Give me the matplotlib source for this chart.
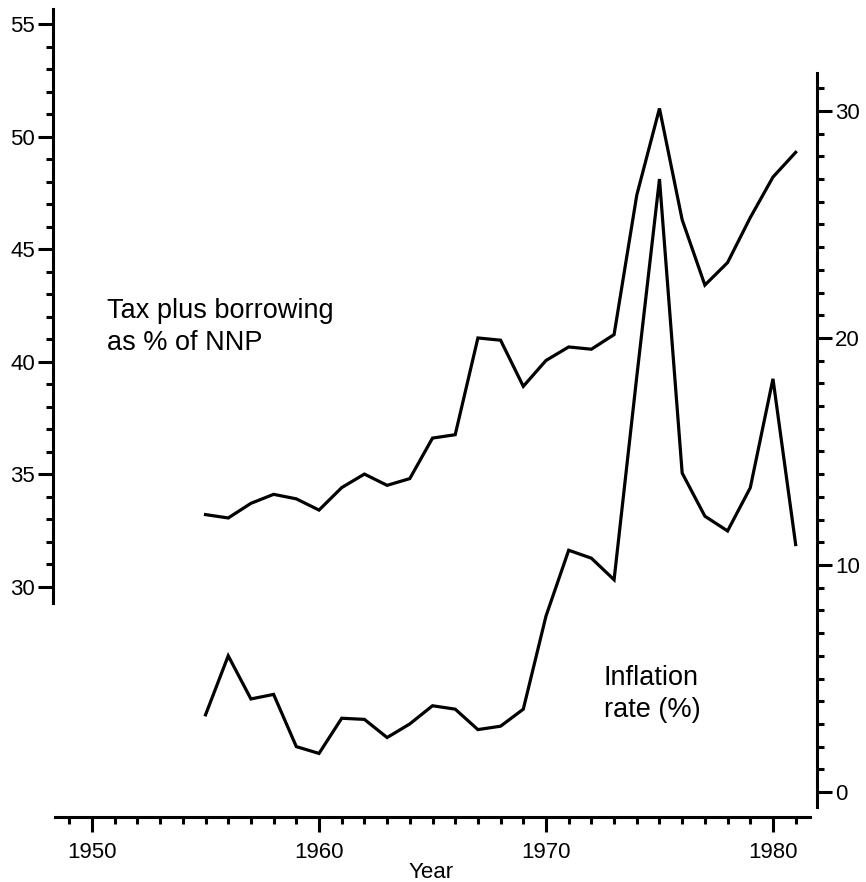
import numpy as np
import matplotlib
matplotlib.use("Agg")
import matplotlib.pyplot as plt

plt.rcParams['font.family'] = ['Liberation Sans', 'DejaVu Sans']

years = list(range(1955, 1982))
tax_borrowing = [33.2, 33.05, 33.7, 34.1, 33.9, 33.4, 34.4, 35.0, 34.5, 34.8,
                 36.6, 36.75, 41.05, 40.95, 38.9, 40.05, 40.65, 40.55, 41.2, 47.4,
                 51.25, 46.3, 43.4, 44.4, 46.4, 48.2, 49.3]
inflation = [3.4, 6.0, 4.1, 4.3, 2.0, 1.7, 3.25, 3.2, 2.4, 3.0,
             3.8, 3.65, 2.75, 2.9, 3.65, 7.75, 10.65, 10.3, 9.35, 18.3,
             27.0, 14.05, 12.15, 11.5, 13.4, 18.2, 10.9]

x_major = [1950, 1960, 1970, 1980]
left_major = [30, 35, 40, 45, 50, 55]
right_major = [0, 10, 20, 30]

W, H = 866, 882
fig = plt.figure(figsize=(W / 100, H / 100), dpi=100)
ax = fig.add_axes([53 / W, (H - 817) / H, (817 - 53) / W, (817 - 9) / H])
ax2 = ax.twinx()

lw = 2.3
fs = 16
fs_note = 19.5

ax.plot(years, tax_borrowing, color='black', lw=lw, solid_joinstyle='miter')
ax2.plot(years, inflation, color='black', lw=lw, solid_joinstyle='miter')

ax.set_xlim(1948.28, 1981.94)
ax.set_ylim(19.76, 55.67)
ax2.set_ylim(-1.10, 34.49)

for s in ['top', 'right']:
    ax.spines[s].set_visible(False)
for s in ['top', 'left', 'bottom']:
    ax2.spines[s].set_visible(False)
for sp in [ax.spines['left'], ax.spines['bottom'], ax2.spines['right']]:
    sp.set_linewidth(2.2)
ax.spines['left'].set_bounds(29.25, 55.67)
ax.spines['bottom'].set_bounds(1948.37, 1981.63)
ax2.spines['right'].set_bounds(-0.66, 31.67)

ax.set_xticks(x_major)
ax.set_xticks(np.arange(1949, 1982), minor=True)
ax.set_yticks(left_major)
ax.set_yticks(np.arange(30, 56), minor=True)
ax2.set_yticks(right_major)
ax2.set_yticks(np.arange(0, 32), minor=True)

ax.tick_params(axis='x', which='major', length=11, width=2.2, pad=7, labelsize=fs)
ax.tick_params(axis='x', which='minor', length=5, width=2.2)
ax.tick_params(axis='y', which='major', length=11, width=2.2, pad=2, labelsize=fs)
ax.tick_params(axis='y', which='minor', length=5, width=2.2)
ax2.tick_params(axis='y', which='major', length=11, width=2.2, pad=2, labelsize=fs)
ax2.tick_params(axis='y', which='minor', length=5, width=2.2)

ax.patch.set_visible(False)

fig.text(107 / W, 1 - 327 / H, "Tax plus borrowing\nas % of NNP", fontsize=fs_note,
         ha='left', va='center', linespacing=1.3)
fig.text(604 / W, 1 - 694 / H, "Inflation\nrate (%)", fontsize=fs_note,
         ha='left', va='center', linespacing=1.3)
fig.text(431 / W, 1 - 873 / H, "Year", fontsize=fs, ha='center', va='center')

fig.savefig("out.png", dpi=100)
